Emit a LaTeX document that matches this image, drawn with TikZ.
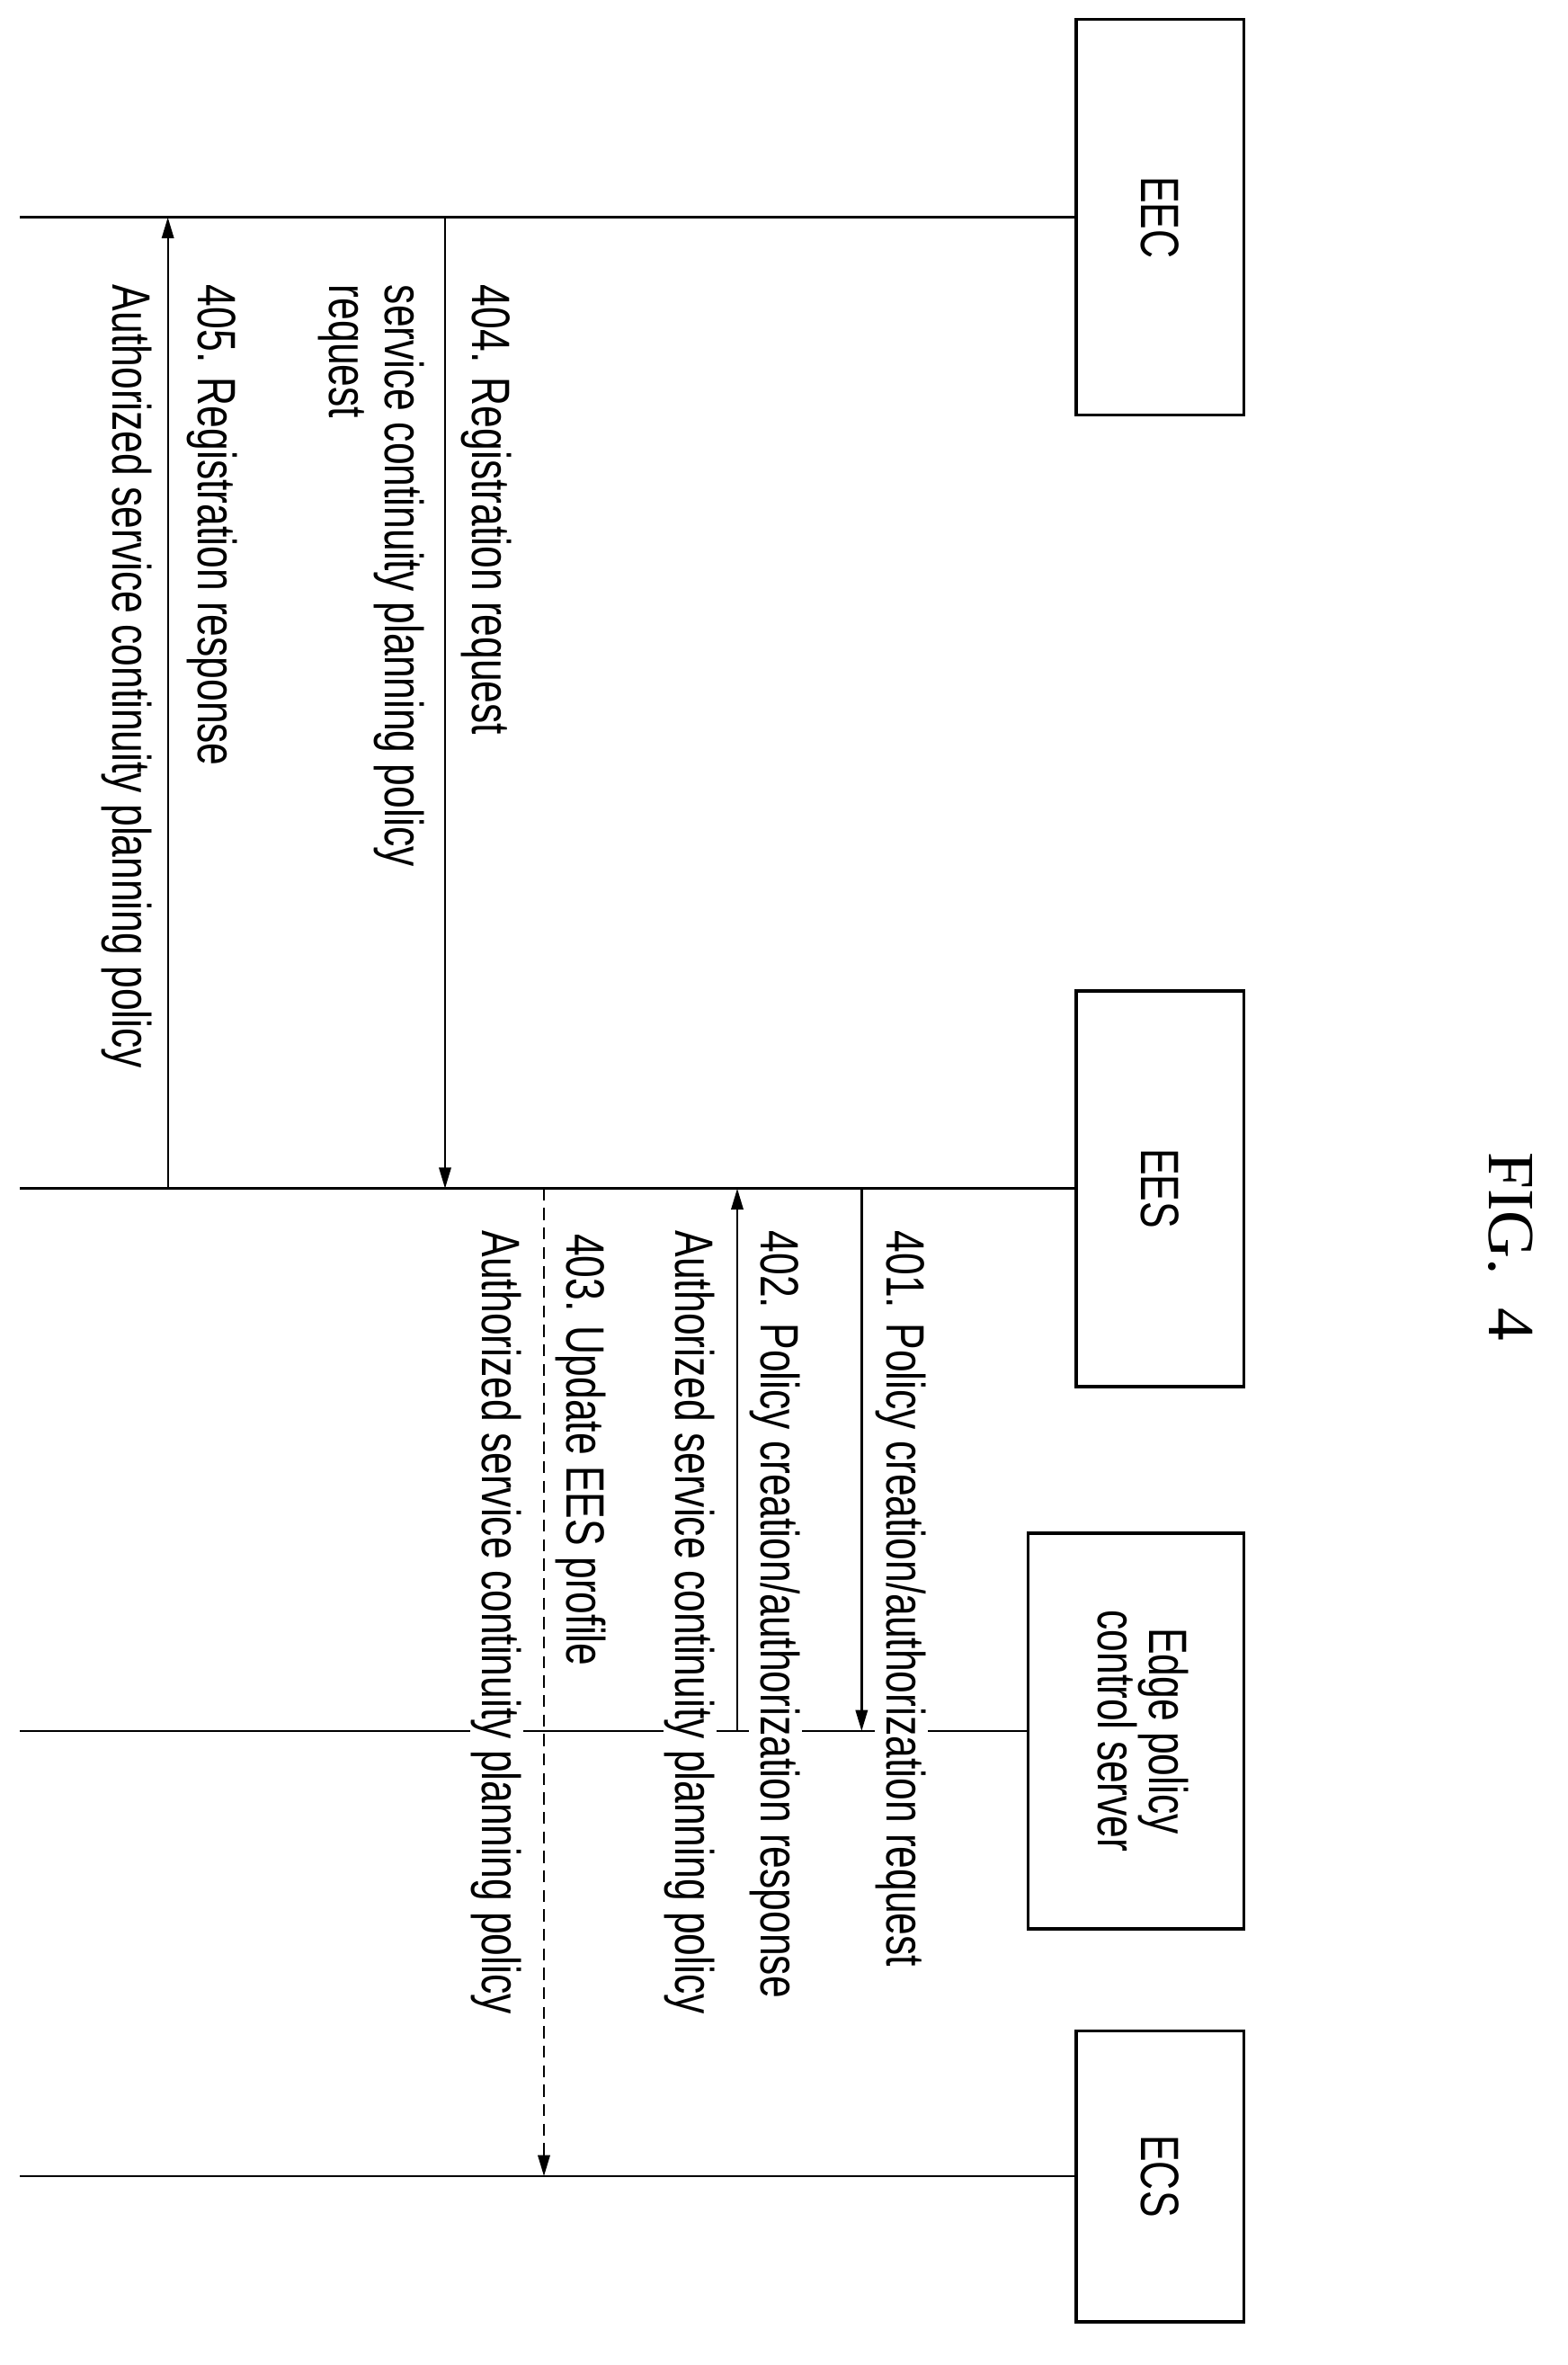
\documentclass[tikz,border=0pt]{standalone}
\usepackage{fontspec}
\setmainfont{Liberation Sans}[FakeStretch=0.74]
\newfontfamily\figfont{Liberation Serif}
\usetikzlibrary{arrows.meta}
\begin{document}
\begin{tikzpicture}[x=1pt,y=-1pt,
  ent/.style={draw,line width=2.2pt,minimum width=112pt,inner sep=0pt,font=\fontsize{36}{40}\selectfont,align=center},
  life/.style={line width=1.5pt},
  msg/.style={line width=1.4pt,-{Triangle[length=14pt,width=8pt]}},
  lbl/.style={rotate=-90,anchor=base west,inner sep=1pt,fill=white,font=\fontsize{36}{40}\selectfont}]
\useasboundingbox (0,0) rectangle (1046,1578);
% entities
\node[ent,minimum height=264pt] (eec) at (774,145) {\rotatebox{-90}{EEC}};
\node[ent,minimum height=264pt] (ees) at (774,793) {\rotatebox{-90}{EES}};
\node[ent,minimum width=144pt,minimum height=264pt] (epcs) at (758,1155) {\rotatebox{-90}{\begin{tabular}{c}Edge policy\\[-6pt]control server\end{tabular}}};
\node[ent,minimum height=194pt] (ecs) at (774,1452) {\rotatebox{-90}{ECS}};
% lifelines
\coordinate (eecE) at (13,145);
\coordinate (eesE) at (13,793);
\coordinate (epcsE) at (13,1155);
\coordinate (ecsE) at (13,1452);
\draw[life] (eec.west) -- (eecE);
\draw[life] (ees.west) -- (eesE);
\draw[life] (epcs.west) -- (epcsE);
\draw[life] (ecs.west) -- (ecsE);
% labels
\node[lbl] (l401) at (592,820) {401. Policy creation/authorization request};
\node[lbl] (l402) at (508,820) {402. Policy creation/authorization response};
\node[lbl] (l402b) at (451,820) {Authorized service continuity planning policy};
\node[lbl] (l403) at (378,822) {403. Update EES profile};
\node[lbl] (l403b) at (322,820) {Authorized service continuity planning policy};
\node[lbl] (l404) at (315,189) {404. Registration request};
\node[lbl] (l404b) at (257,189) {service continuity planning policy};
\node[lbl] (l404c) at (220,189) {request};
\node[lbl] (l405) at (132,189) {405. Registration response};
\node[lbl] (l405b) at (75,189) {Authorized service continuity planning policy};
% message points
\coordinate (a1) at (575,793); \coordinate (b1) at (575,1155);
\coordinate (a2) at (492,1155); \coordinate (b2) at (492,793);
\coordinate (a3) at (363,793); \coordinate (b3) at (363,1452);
\coordinate (a4) at (297,145); \coordinate (b4) at (297,793);
\coordinate (a5) at (112,793); \coordinate (b5) at (112,145);
\draw[msg] (a1) -- (b1);
\draw[msg] (a2) -- (b2);
\draw[msg,dash pattern=on 8pt off 5pt] (a3) -- (b3);
\draw[msg] (a4) -- (b4);
\draw[msg] (a5) -- (b5);
% figure caption
\node[rotate=-90,font=\figfont\fontsize{44}{48}\selectfont] (fig) at (1008,832) {FIG.\ \ 4};
\end{tikzpicture}
\end{document}
